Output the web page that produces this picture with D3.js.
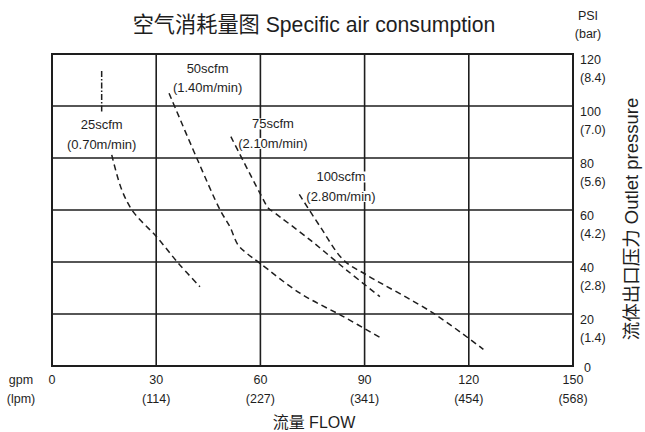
<!DOCTYPE html>
<html><head><meta charset="utf-8">
<script src="https://cdn.jsdelivr.net/npm/d3@7"></script>
<style>body{margin:0;background:#fff}svg{display:block}</style>
</head><body>
<svg id="c" width="645" height="432"></svg>
<script>
// ---- data ----
const gpmTicks = [0, 30, 60, 90, 120, 150];
const lpmTicks = ["", "(114)", "(227)", "(341)", "(454)", "(568)"];
const psiTicks = [0, 20, 40, 60, 80, 100, 120];
const barTicks = ["", "(1.4)", "(2.8)", "(4.2)", "(5.6)", "(7.0)", "(8.4)"];
const seriesNames = ["25scfm", "50scfm", "75scfm", "100scfm"];
const seriesSub = ["(0.70m/min)", "(1.40m/min)", "(2.10m/min)", "(2.80m/min)"];
const curve25 = [[17.2,81.2],[20.1,67.7],[23.4,59.3],[30.1,49.7],[36.4,39.5],[42.6,30.5]];
const lead25 = [[14.3,113.5],[14.3,97.3]];
const curve50 = [[33.7,104.9],[41.7,79.9],[48.4,60],[51.2,53.6],[53.6,46.5],[56.1,43.3],[59.9,39.5],[71.4,28],[83.9,19],[94.4,11.0]];
const curve75 = [[51.5,88.2],[59.9,66.4],[62.3,60.7],[63.7,59.3],[74.3,48.5],[84.8,36.9],[94.4,26.7]];
const curve100 = [[71.2,66],[77.2,53.6],[83.9,40.8],[90.6,35],[109.8,20.3],[124.2,6.4]];
const curves = [curve25, curve50, curve75, curve100];
// label anchors (data units)
const labelAt = [[14.3,92.7],[44.8,114.5],[63.6,93.1],[83.2,72.7]];

// ---- layout ----
const svg = d3.select("#c");
const FONT = "'Liberation Sans', Arial, 'Noto Sans CJK SC', sans-serif";
const ink = "#1e1e1e";
const x = d3.scaleLinear().domain([0,150]).range([52,573]);
const y = d3.scaleLinear().domain([0,120]).range([366,54]);

// grid
const g = svg.append("g");
g.selectAll("line.v").data(gpmTicks).join("line")
  .attr("x1", d=>x(d)).attr("x2", d=>x(d)).attr("y1", y(0)).attr("y2", y(120))
  .attr("stroke", ink).attr("stroke-width", 1.6);
g.selectAll("line.h").data(psiTicks).join("line")
  .attr("x1", x(0)).attr("x2", x(150)).attr("y1", d=>y(d)).attr("y2", d=>y(d))
  .attr("stroke", ink).attr("stroke-width", 1.6);
g.append("rect").attr("x", x(0)).attr("y", y(120)).attr("width", x(150)-x(0)).attr("height", y(0)-y(120))
  .attr("fill","none").attr("stroke", ink).attr("stroke-width", 2);

// labels with white backgrounds
const lg = svg.append("g").attr("font-family", FONT).attr("font-size", 13).attr("fill", ink);
labelAt.forEach((p,i)=>{
  [[seriesNames[i],0],[seriesSub[i],19.5]].forEach(([t,dy])=>{
    const tx = lg.append("text").attr("x", x(p[0])).attr("y", y(p[1])+dy+4.5)
      .attr("text-anchor","middle").text(t);
    const bb = tx.node().getBBox();
    lg.insert("rect", "text").attr("x", bb.x-1).attr("y", bb.y+2).attr("width", bb.width+2).attr("height", bb.height-4).attr("fill","#fff");
  });
});

// curves
const line = d3.line().x(d=>x(d[0])).y(d=>y(d[1])).curve(d3.curveCatmullRom.alpha(0.5));
svg.append("g").selectAll("path").data(curves).join("path")
  .attr("d", line).attr("fill","none").attr("stroke", ink).attr("stroke-width", 1.5)
  .attr("stroke-dasharray", "6,4");
svg.append("path").attr("d", d3.line().x(d=>x(d[0])).y(d=>y(d[1]))(lead25))
  .attr("fill","none").attr("stroke", ink).attr("stroke-width", 1.5).attr("stroke-dasharray","6,2,1.5,2");

// axes text
const t = svg.append("g").attr("font-family", FONT).attr("fill", ink);
t.append("text").attr("x", 314).attr("y", 32).attr("text-anchor","middle").attr("font-size", 21.2)
  .text("空气消耗量图 Specific air consumption");
t.append("text").attr("x", 588).attr("y", 19.5).attr("text-anchor","middle").attr("font-size", 12.5).text("PSI");
t.append("text").attr("x", 588).attr("y", 37.5).attr("text-anchor","middle").attr("font-size", 12.5).text("(bar)");
t.selectAll("text.psi").data(psiTicks).join("text")
  .attr("x", d=> d===0 ? 584 : 580).attr("y", d=> y(d) + (d===0 ? 5.5 : 9.5)).attr("font-size", 12.5).text(d=>d);
t.selectAll("text.bar").data(psiTicks).join("text")
  .attr("x", 580).attr("y", d=> y(d) + 28).attr("font-size", 12.5).text((d,i)=>barTicks[i]);
t.selectAll("text.gpm").data(gpmTicks).join("text")
  .attr("x", d=>x(d)).attr("y", 383.5).attr("text-anchor","middle").attr("font-size", 12.5).text(d=>d);
t.selectAll("text.lpm").data(gpmTicks).join("text")
  .attr("x", d=>x(d)).attr("y", 402.5).attr("text-anchor","middle").attr("font-size", 12.5).text((d,i)=>lpmTicks[i]);
t.append("text").attr("x", 21).attr("y", 383.5).attr("text-anchor","middle").attr("font-size", 12.5).text("gpm");
t.append("text").attr("x", 21).attr("y", 402.5).attr("text-anchor","middle").attr("font-size", 12.5).text("(lpm)");
t.append("text").attr("x", 314).attr("y", 428).attr("text-anchor","middle").attr("font-size", 16).text("流量 FLOW");
t.append("text").attr("transform","translate(638,219) rotate(-90)").attr("text-anchor","middle").attr("font-size", 18.5)
  .text("流体出口压力 Outlet pressure");
</script>
</body></html>
